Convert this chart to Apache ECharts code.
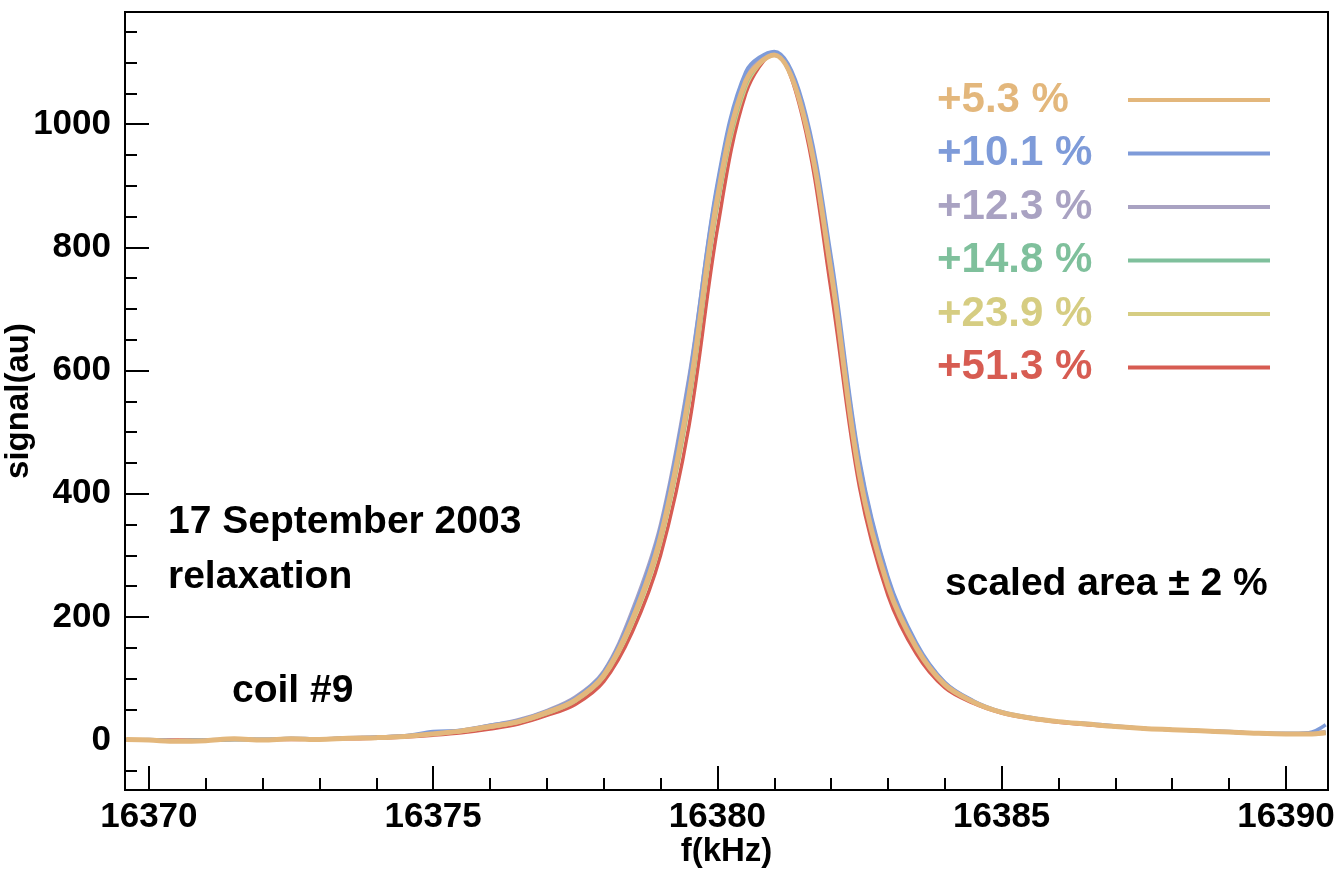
<!DOCTYPE html><html><head><meta charset="utf-8">
<script src="https://cdn.jsdelivr.net/npm/echarts@6/dist/echarts.min.js"></script>
<style>html,body{margin:0;padding:0;background:#fff}#c{width:1343px;height:873px}</style></head><body><div id="c"></div>
<script>
const xs=[16369.6,16370,16370.5,16371,16371.5,16372,16372.5,16373,16373.5,16374,16374.5,16375,16375.5,16376,16376.5,16377,16377.5,16378,16378.5,16379,16379.5,16380,16380.5,16381,16381.5,16382,16382.5,16383,16383.5,16384,16384.5,16385,16385.5,16386,16386.5,16387,16387.5,16388,16388.5,16389,16389.5,16390,16390.4,16390.7];
const s53 =[1,0,-2,-1,2,0,2,1,3,4,6,10,15,22,30,45,65,105,195,330,560,880,1070,1112,1020,760,430,250,150,90,62,45,36,30,26,22,19,17,15,13,11,10,10,12];
const s101=[0,1,-1,0,1,1,3,2,3,5,7,14,16,24,32,47,68,110,205,345,585,905,1085,1118,1035,785,455,265,158,94,64,46,37,30,27,23,19,17,15,14,11,11,12,25];
const s123=[0,0,-1,0,2,1,2,2,4,5,7,11,16,24,33,48,70,112,210,350,590,900,1080,1116,1030,775,450,262,155,93,63,45,36,30,26,22,19,17,15,13,11,10,11,14];
const s148=[0,0,-1,0,1,1,2,2,3,4,6,10,15,22,30,44,64,104,192,325,550,870,1065,1114,1022,770,440,255,152,91,62,45,36,30,26,22,19,17,15,13,11,10,10,12];
const s239=[0,0,-1,0,1,1,2,2,3,4,6,10,14,21,29,43,63,102,188,320,545,865,1060,1114,1020,765,438,253,151,90,62,45,36,30,26,22,19,17,15,13,11,10,10,12];
const s513=[0,0,0,0,1,1,1,2,2,3,5,8,12,18,26,40,58,95,175,300,510,830,1050,1115,1010,730,410,235,140,85,60,44,35,29,25,22,19,17,15,13,11,10,10,11];
const names=['+5.3 %','+10.1 %','+12.3 %','+14.8 %','+23.9 %','+51.3 %'];
const colors=['#e3b77c','#7e9bd9','#a9a2c2','#7fc09c','#d6cd82','#d75c52'];
const vals=[s53,s101,s123,s148,s239,s513];
const xLabels=[16370,16375,16380,16385,16390];
const yLabels=[0,200,400,600,800,1000];
const F='Liberation Sans, Arial, sans-serif';
const ch=echarts.init(document.getElementById('c'));
const minorX=[];for(let v=16370;v<=16390;v++)minorX.push(v);
const minorY=[];for(let v=-50;v<=1150;v+=50)minorY.push(v);
const series=[];
for(let i=5;i>=0;i--){series.push({name:names[i],type:'line',smooth:0.35,showSymbol:false,data:xs.map((x,j)=>[x,vals[i][j]]),lineStyle:{color:colors[i],width:i===0?5:3.5},z:10-i,animation:false});}
const graphic=[];
names.forEach((n,i)=>{const y=100+i*53.5;
graphic.push({type:'text',x:937,y:y,style:{text:n,fill:colors[i],font:'bold 42px '+F,verticalAlign:'middle'}});
graphic.push({type:'line',shape:{x1:1128,y1:y,x2:1270,y2:y},style:{stroke:colors[i],lineWidth:4}});});
[['17 September 2003',168,522],['relaxation',168,577],['coil #9',232,691],['scaled area \u00b1 2 %',945,584]].forEach(t=>graphic.push({type:'text',x:t[1],y:t[2],style:{text:t[0],fill:'#000',font:'bold 39px '+F,verticalAlign:'middle'}}));
const fmt=v=>String(v);
const L={color:'#000',fontSize:35,fontWeight:'bold',fontFamily:F};
ch.setOption({animation:false,
grid:{left:125,top:12,width:1203,height:778,show:true,borderColor:'#000',borderWidth:2,containLabel:false,outerBoundsMode:'none'},
xAxis:[{type:'value',min:16369.58,max:16390.74,splitLine:{show:false},axisLine:{onZero:false,lineStyle:{color:'#000',width:2}},
axisTick:{inside:true,length:24,customValues:xLabels,lineStyle:{color:'#000',width:2}},
axisLabel:Object.assign({customValues:xLabels,formatter:fmt,margin:10},L),
name:'f(kHz)',nameLocation:'middle',nameGap:45,nameMoveOverlap:false,nameTextStyle:Object.assign({},L,{fontSize:33})},
{type:'value',position:'bottom',min:16369.58,max:16390.74,splitLine:{show:false},axisLine:{show:false,onZero:false},axisTick:{inside:true,length:12,customValues:minorX,lineStyle:{color:'#000',width:2}},axisLabel:{show:false}}],
yAxis:[{type:'value',min:-81,max:1182,splitLine:{show:false},axisLine:{onZero:false,lineStyle:{color:'#000',width:2}},
axisTick:{inside:true,length:24,customValues:yLabels,lineStyle:{color:'#000',width:2}},
axisLabel:Object.assign({customValues:yLabels,formatter:fmt,margin:14},L),
name:'signal(au)',nameLocation:'middle',nameGap:90,nameMoveOverlap:false,nameTextStyle:Object.assign({},L,{fontSize:33})},
{type:'value',position:'left',min:-81,max:1182,splitLine:{show:false},axisLine:{show:false,onZero:false},axisTick:{inside:true,length:12,customValues:minorY,lineStyle:{color:'#000',width:2}},axisLabel:{show:false}}],
series:series,graphic:graphic});
</script></body></html>
